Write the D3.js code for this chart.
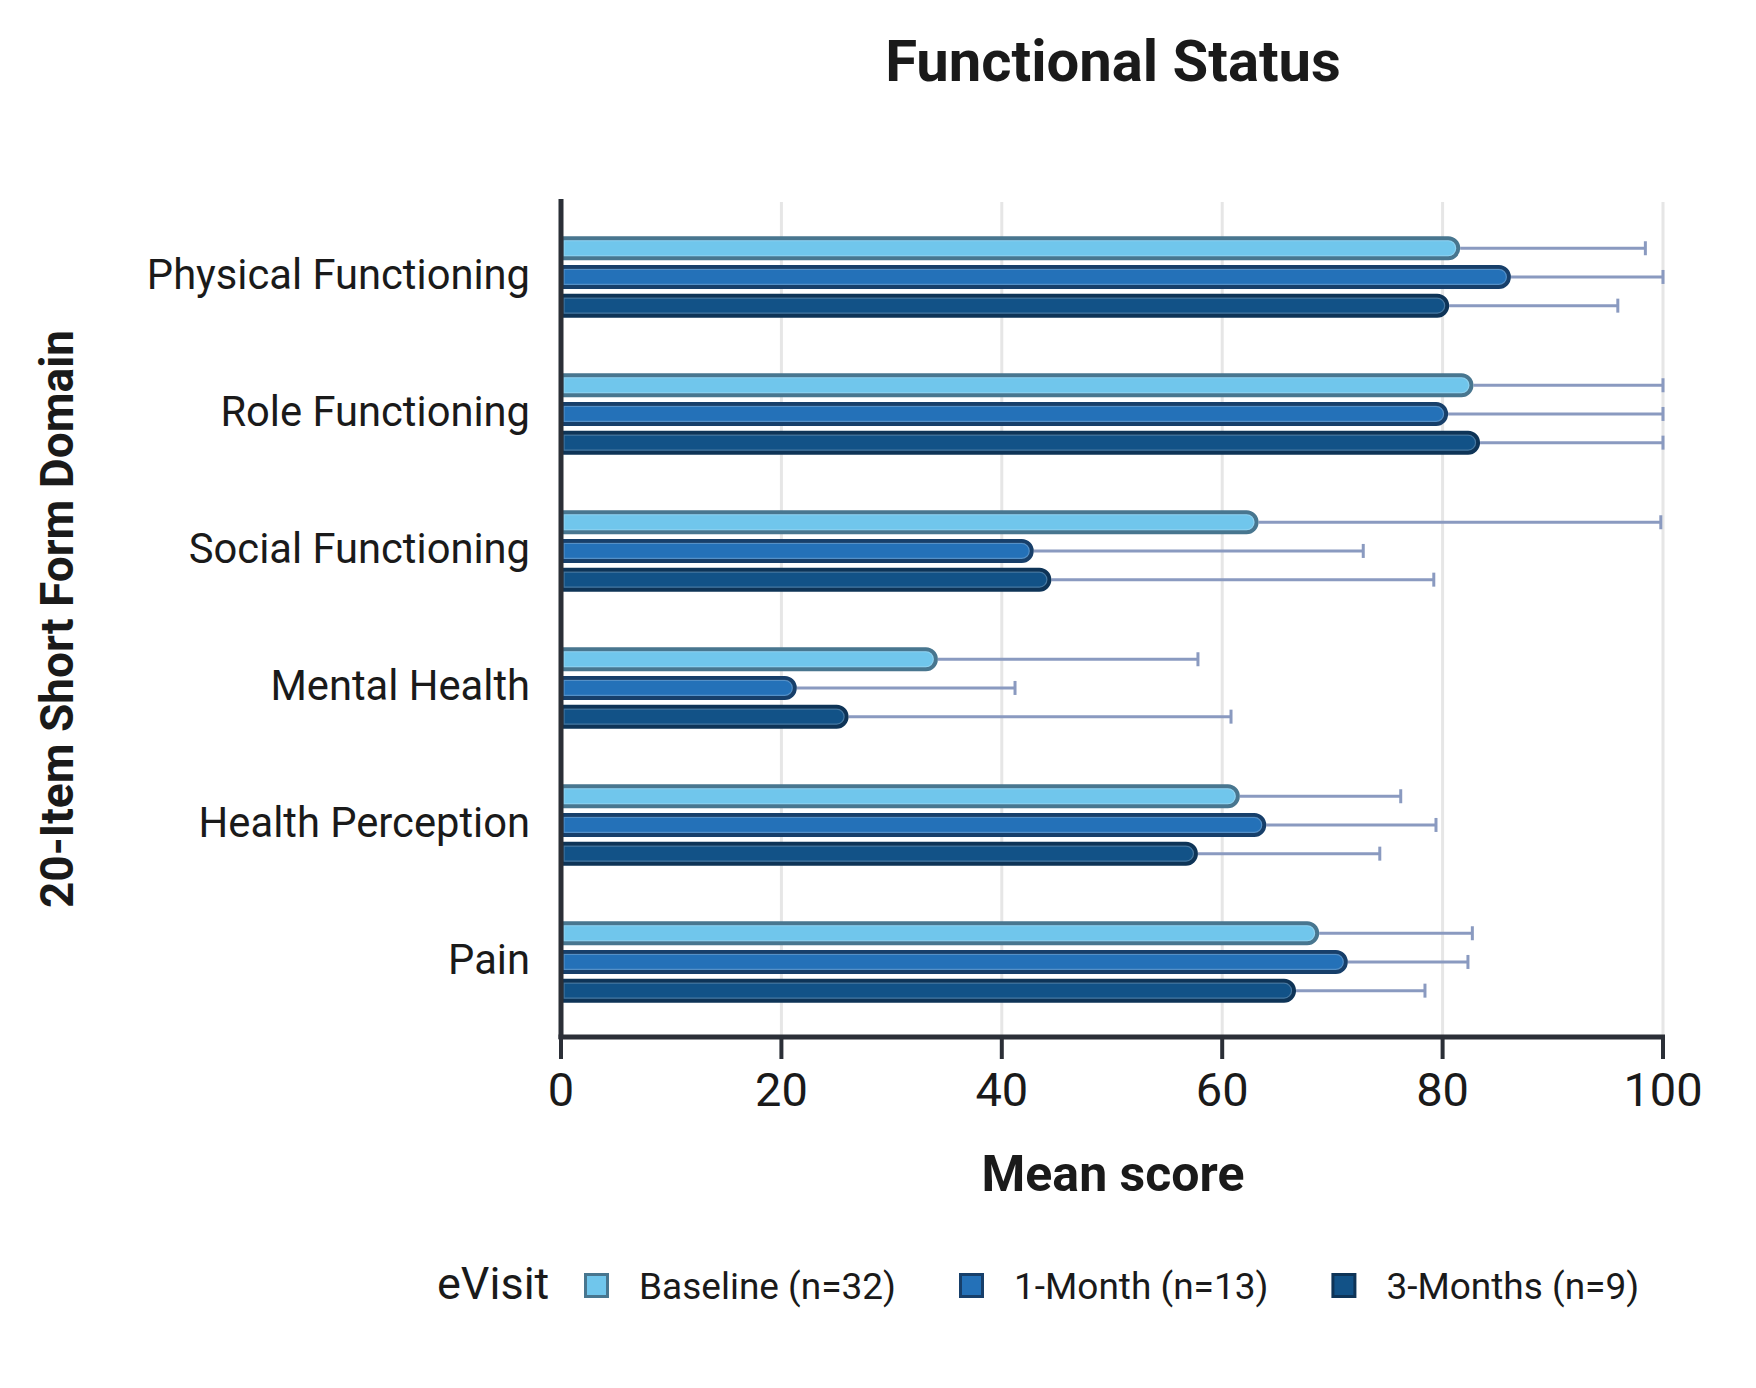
<!DOCTYPE html>
<meta charset="utf-8">
<style>
  body { margin: 0; background: #fff; }
  svg { display: block; font-family: Roboto, "Noto Sans", sans-serif; }
</style>
<body>
<div id="chart"></div>
<script src="https://d3js.org/d3.v7.min.js"></script>
<script>
const domains = ["Physical Functioning", "Role Functioning", "Social Functioning",
                 "Mental Health", "Health Perception", "Pain"];
const series = ["Baseline (n=32)", "1-Month (n=13)", "3-Months (n=9)"];

const baselineMean = [81.6, 82.8, 63.3, 34.2, 61.6, 68.8];
const baselineUpper = [98.4, 100, 99.8, 57.8, 76.2, 82.7];
const month1Mean = [86.2, 80.5, 42.9, 21.4, 64.0, 71.4];
const month1Upper = [100, 100, 72.8, 41.2, 79.4, 82.3];
const month3Mean = [80.6, 83.4, 44.5, 26.1, 57.8, 66.7];
const month3Upper = [95.9, 100, 79.2, 60.8, 74.3, 78.4];

const xTicks = [0, 20, 40, 60, 80, 100];

// colours per series
const fills   = ["#70c6ec", "#2471b8", "#125287"];
const strokes = ["#48768f", "#173f6a", "#0e3457"];

const means = [baselineMean, month1Mean, month3Mean];
const uppers = [baselineUpper, month1Upper, month3Upper];

const rows = [];
domains.forEach((d, i) => {
  series.forEach((s, j) => {
    rows.push({ domain: d, series: s, idx: j, mean: means[j][i], upper: uppers[j][i] });
  });
});

// ——— layout ———
const W = 1756, H = 1388;
const plotL = 561, plotR = 1663, plotT = 199, plotB = 1037;

const svg = d3.select("#chart").append("svg")
    .attr("width", W).attr("height", H);

const x = d3.scaleLinear().domain([0, 100]).range([plotL, plotR]);

const y0 = d3.scaleBand().domain(domains).range([208.5, 1030.5]);
const groupH = 81.5;
const y1 = d3.scaleBand().domain(series).range([0, groupH]).paddingInner(0.16);

// gridlines
svg.append("g")
  .selectAll("line")
  .data(xTicks.slice(1))
  .join("line")
    .attr("x1", d => x(d)).attr("x2", d => x(d))
    .attr("y1", plotT + 3).attr("y2", plotB)
    .attr("stroke", "#e6e6e6")
    .attr("stroke-width", 3);

// bar with square left end and rounded right end
function barPath(x0, x1, yTop, h) {
  const r = Math.min(h / 2, Math.max(0, x1 - x0));
  return `M${x0},${yTop}H${x1 - r}A${r},${r} 0 0 1 ${x1 - r},${yTop + h}H${x0}Z`;
}

const barH = 20;
const barY = d => y0(d.domain) + (y0.bandwidth() - groupH) / 2 + y1(d.series) + 2;

const bars = svg.append("g")
  .selectAll("g")
  .data(rows)
  .join("g");

// error bars, from the bar end out to the upper value
bars.append("line")
    .attr("x1", d => x(d.mean))
    .attr("x2", d => x(d.upper))
    .attr("y1", d => barY(d) + barH / 2)
    .attr("y2", d => barY(d) + barH / 2)
    .attr("stroke", "#8a9ac0")
    .attr("stroke-width", 3);

bars.append("line")
    .attr("x1", d => x(d.upper))
    .attr("x2", d => x(d.upper))
    .attr("y1", d => barY(d) + barH / 2 - 7)
    .attr("y2", d => barY(d) + barH / 2 + 7)
    .attr("stroke", "#8a9ac0")
    .attr("stroke-width", 3);

bars.append("path")
    .attr("d", d => barPath(x(0) + 0.5, x(d.mean) - 2, barY(d), barH))
    .attr("fill", d => fills[d.idx])
    .attr("stroke", d => strokes[d.idx])
    .attr("stroke-width", 4);

// faint inner highlight
bars.append("path")
    .attr("d", d => barPath(x(0) + 3, x(d.mean) - 4.5, barY(d) + 2.5, barH - 5))
    .attr("fill", "none")
    .attr("stroke", "#ffffff")
    .attr("stroke-opacity", 0.22)
    .attr("stroke-width", 1.2);

// axes
const axisColor = "#2b2f37";
svg.append("line")
    .attr("x1", plotL).attr("x2", plotL)
    .attr("y1", plotT).attr("y2", plotB + 2)
    .attr("stroke", axisColor).attr("stroke-width", 5);

svg.append("line")
    .attr("x1", plotL - 2.5).attr("x2", plotR + 2)
    .attr("y1", plotB).attr("y2", plotB)
    .attr("stroke", axisColor).attr("stroke-width", 5);

const xAxis = svg.append("g");
xAxis.selectAll("line")
  .data(xTicks)
  .join("line")
    .attr("x1", d => x(d)).attr("x2", d => x(d))
    .attr("y1", plotB).attr("y2", plotB + 22)
    .attr("stroke", axisColor).attr("stroke-width", 4);

xAxis.selectAll("text")
  .data(xTicks)
  .join("text")
    .attr("x", d => x(d))
    .attr("y", 1106)
    .attr("text-anchor", "middle")
    .attr("font-size", 47)
    .attr("fill", "#1a1a1a")
    .text(d => d);

// category labels
svg.append("g")
  .selectAll("text")
  .data(domains)
  .join("text")
    .attr("x", 530)
    .attr("y", d => y0(d) + y0.bandwidth() / 2 + 12)
    .attr("text-anchor", "end")
    .attr("font-size", 41.7)
    .attr("fill", "#1a1a1a")
    .text(d => d);

// titles
svg.append("text")
    .attr("x", 1113).attr("y", 81)
    .attr("text-anchor", "middle")
    .attr("font-size", 58).attr("font-weight", "bold")
    .attr("fill", "#1a1a1a")
    .text("Functional Status");

svg.append("text")
    .attr("x", 1113).attr("y", 1191)
    .attr("text-anchor", "middle")
    .attr("font-size", 50).attr("font-weight", "bold")
    .attr("fill", "#1a1a1a")
    .text("Mean score");

svg.append("text")
    .attr("transform", "translate(73,619) rotate(-90)")
    .attr("text-anchor", "middle")
    .attr("font-size", 46).attr("font-weight", "bold")
    .attr("fill", "#1a1a1a")
    .text("20-Item Short Form Domain");

// legend
const legend = svg.append("g");
legend.append("text")
    .attr("x", 437).attr("y", 1299)
    .attr("font-size", 45)
    .attr("fill", "#1a1a1a")
    .text("eVisit");

let lx = 584;
series.forEach((s, j) => {
  legend.append("rect")
      .attr("x", lx + 1.5).attr("y", 1274.5)
      .attr("width", 22).attr("height", 22)
      .attr("fill", fills[j])
      .attr("stroke", strokes[j])
      .attr("stroke-width", 3);
  const t = legend.append("text")
      .attr("x", lx + 55).attr("y", 1299)
      .attr("font-size", 37)
      .attr("fill", "#1a1a1a")
      .text(s);
  lx = lx + 55 + t.node().getComputedTextLength() + 63;
});
</script>
</body>
